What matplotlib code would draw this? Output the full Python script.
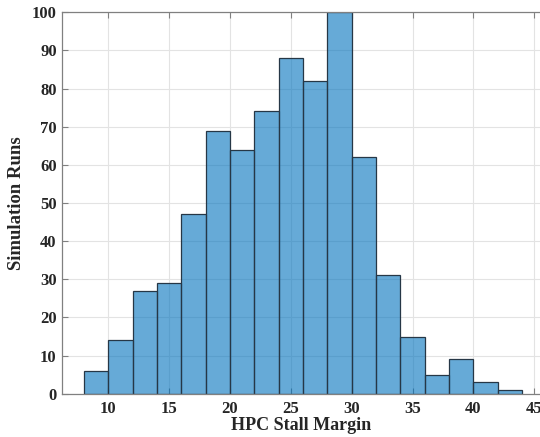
"""Histogram of HPC stall margin across simulation runs."""

import matplotlib.pyplot as plt
import numpy as np

# Bin edges (width 2) and counts
BIN_EDGES = np.arange(8, 46, 2)
COUNTS = [6, 14, 27, 29, 47, 69, 64, 74, 88, 82, 100, 62, 31, 15, 5, 9, 3, 1]

X_TICKS = [10, 15, 20, 25, 30, 35, 40, 45]
Y_TICKS = list(range(0, 101, 10))

FACE_COLOR = (0.0, 0.447, 0.741, 0.6)
EDGE_COLOR = "#263746"
AXIS_COLOR = "#808080"


def main() -> None:
    plt.rcParams["font.family"] = ["Liberation Serif", "DejaVu Serif"]
    plt.rcParams["font.weight"] = "bold"

    fig = plt.figure(figsize=(5.4, 4.37), dpi=100)
    ax = fig.add_axes([0.114, 0.099, 0.886, 0.873])

    ax.hist(
        BIN_EDGES[:-1],
        bins=BIN_EDGES,
        weights=COUNTS,
        facecolor=FACE_COLOR,
        edgecolor=EDGE_COLOR,
        linewidth=0.9,
        zorder=2,
    )

    ax.set_xlim(6.17, 45.47)
    ax.set_ylim(0, 100)
    ax.set_xticks(X_TICKS)
    ax.set_yticks(Y_TICKS)

    ax.grid(True, color="#e3e3e3", linewidth=0.8, zorder=0)
    ax.set_axisbelow(True)

    for side in ["left", "bottom", "top"]:
        ax.spines[side].set_color(AXIS_COLOR)
        ax.spines[side].set_linewidth(0.9)
    ax.spines["right"].set_visible(False)

    ax.tick_params(
        direction="in",
        top=True,
        right=False,
        length=4,
        color=AXIS_COLOR,
        labelsize=12,
        labelcolor="#262626",
    )
    ax.tick_params(axis="x", pad=5)

    ax.set_xlabel("HPC Stall Margin", fontsize=13, fontweight="bold", color="#262626", labelpad=0)
    ax.set_ylabel("Simulation Runs", fontsize=13.5, fontweight="bold", color="#262626", labelpad=5)

    fig.savefig("out.png", dpi=100)
    plt.close(fig)


if __name__ == "__main__":
    main()
